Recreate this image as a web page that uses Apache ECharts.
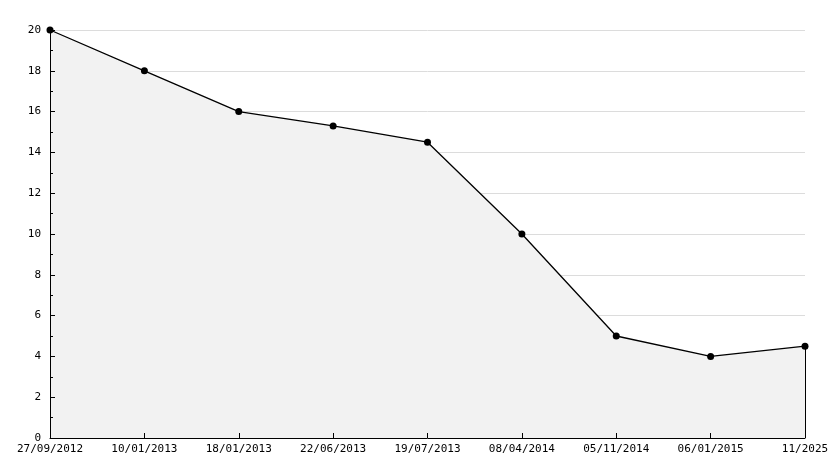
<!DOCTYPE html>
<html>
<head>
<meta charset="utf-8">
<script src="https://cdn.jsdelivr.net/npm/echarts@6/dist/echarts.min.js"></script>
<style>
  html, body { margin: 0; padding: 0; background: #fff; }
  #main { width: 834px; height: 468px; }
</style>
</head>
<body>
<div id="main"></div>
<script>
var dates = ["27/09/2012", "10/01/2013", "18/01/2013", "22/06/2013", "19/07/2013",
             "08/04/2014", "05/11/2014", "06/01/2015", "11/2025"];
var values = [20, 18, 16, 15.3, 14.5, 10, 5, 4, 4.5];

var font = "DejaVu Sans Mono";
var myChart = echarts.init(document.getElementById("main"));

// axes drawn twice: one under the area (grid lines + labels), one on top (lines + ticks)
var option = {
  animation: false,
  grid: { left: 50, right: 29, top: 30, bottom: 30 },
  xAxis: [
    {
      type: "category",
      boundaryGap: false,
      data: dates,
      z: 0,
      axisLine: { show: false },
      axisTick: { show: false },
      axisLabel: { color: "#000", fontFamily: font, fontSize: 11, margin: 6, interval: 0 },
      splitLine: { show: false }
    },
    {
      type: "category",
      boundaryGap: false,
      data: dates,
      position: "bottom",
      z: 10,
      axisLine: { lineStyle: { color: "#000", width: 1 } },
      axisTick: { inside: true, length: 5, interval: 0, lineStyle: { color: "#000" } },
      axisLabel: { show: false },
      splitLine: { show: false }
    }
  ],
  yAxis: [
    {
      type: "value",
      min: 0,
      max: 20,
      interval: 2,
      z: 0,
      axisLine: { show: false },
      axisTick: { show: false },
      axisLabel: { color: "#000", fontFamily: font, fontSize: 11, margin: 9 },
      splitLine: { show: true, lineStyle: { color: "#dcdcdc", width: 1 } }
    },
    {
      type: "value",
      min: 0,
      max: 20,
      interval: 2,
      position: "left",
      z: 10,
      axisLine: { show: true, lineStyle: { color: "#000", width: 1 } },
      axisTick: { show: true, inside: true, length: 5, lineStyle: { color: "#000" } },
      minorTick: { show: true, splitNumber: 2, length: 3, lineStyle: { color: "#000" } },
      axisLabel: { show: false },
      splitLine: { show: false }
    }
  ],
  series: [
    {
      type: "line",
      data: values,
      xAxisIndex: 0,
      yAxisIndex: 0,
      symbol: "circle",
      symbolSize: 7,
      itemStyle: { color: "#000" },
      lineStyle: { color: "#000", width: 1.3 },
      areaStyle: { color: "#f2f2f2", opacity: 1 },
      markLine: {
        silent: true,
        symbol: "none",
        label: { show: false },
        lineStyle: { color: "#000", width: 1, type: "solid" },
        data: [[
          { coord: [dates.length - 1, 0] },
          { coord: [dates.length - 1, values[values.length - 1]] }
        ]]
      }
    }
  ]
};

myChart.setOption(option);
</script>
</body>
</html>
